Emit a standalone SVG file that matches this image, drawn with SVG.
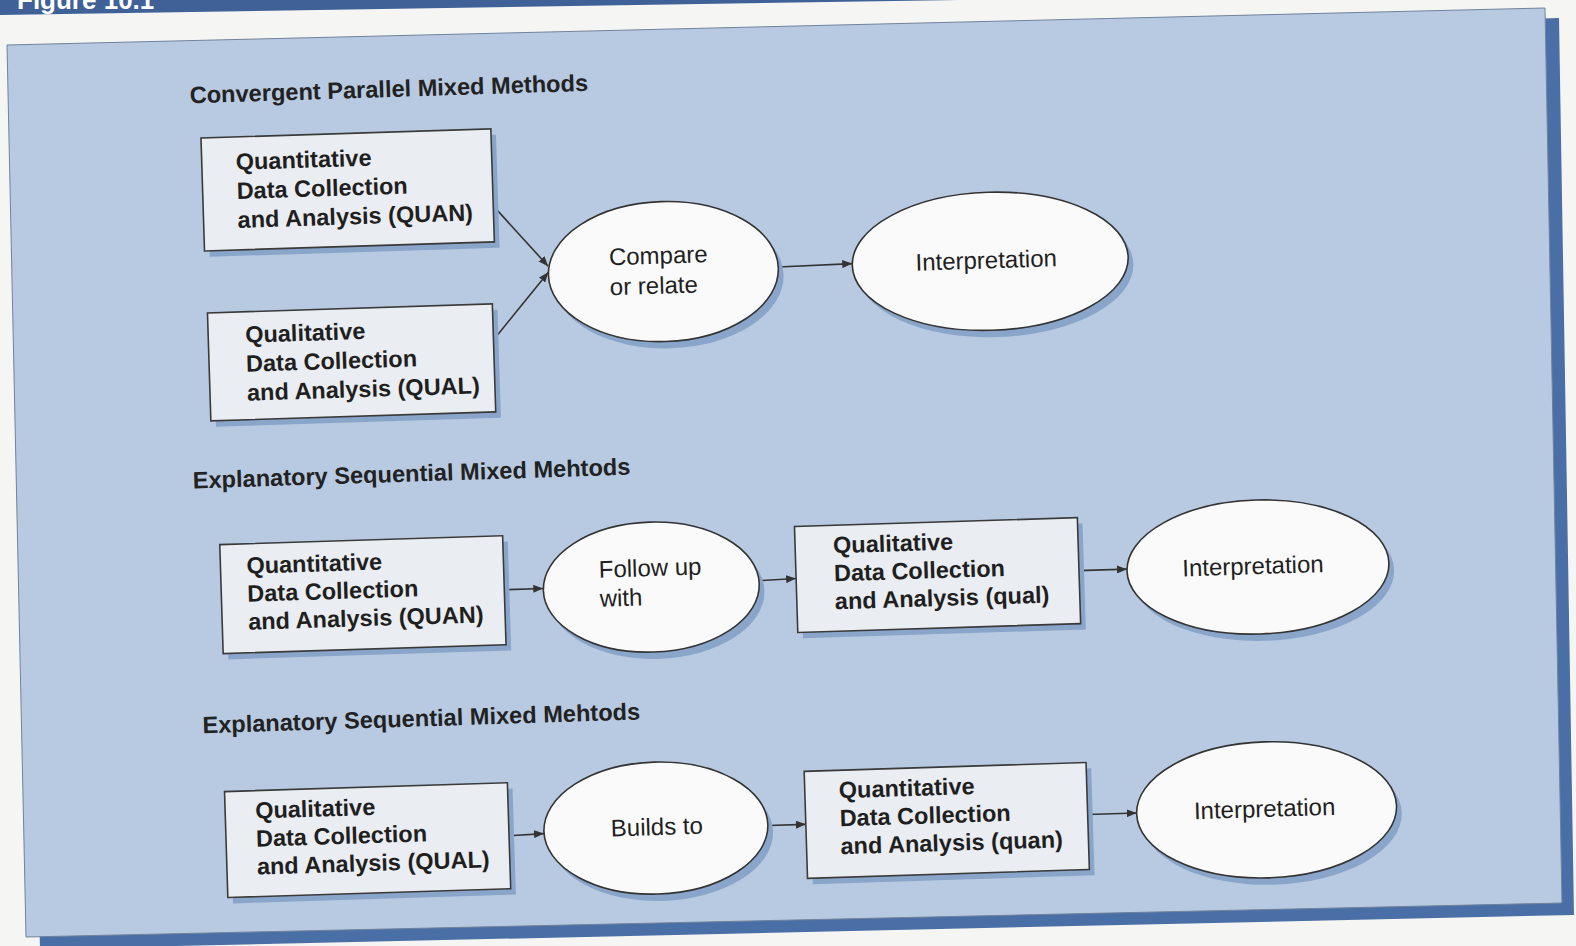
<svg xmlns="http://www.w3.org/2000/svg" width="1576" height="946" viewBox="0 0 1576 946">
<defs>
<marker id="arr" viewBox="0 0 10 8" refX="10" refY="4" markerWidth="10" markerHeight="8" markerUnits="userSpaceOnUse" orient="auto"><path d="M0,0 L10,4 L0,8 z" fill="#333"/></marker>
<style>
.box{fill:#eaedf1;stroke:#3a3a3a;stroke-width:1.6}
.ell{fill:#fafafa;stroke:#333;stroke-width:1.6}
.sh{fill:#8aa5ca}
.bt{font-family:"Liberation Sans",Arial,sans-serif;font-weight:bold;font-size:23.5px;fill:#1f1f1f}
.et{font-family:"Liberation Sans",Arial,sans-serif;font-size:24px;fill:#1f1f1f}
.ttl{font-family:"Liberation Sans",Arial,sans-serif;font-weight:bold;font-size:23.6px;fill:#222}
.conn path{stroke:#333;stroke-width:1.6;fill:none;marker-end:url(#arr)}
</style>
</defs>
<rect width="1576" height="946" fill="#f5f5f3"/>
<polygon points="0,0 960,0 0,15" fill="#3f6198"/>
<text x="17" y="9" font-family="Liberation Sans, Arial, sans-serif" font-weight="bold" font-size="26" fill="#ffffff">Figure 10.1</text>
<polygon points="21,57 1559,18 1574,915 40,949" fill="#4a6fa6"/>
<polygon points="7,45 1545,8 1562,903 26,937" fill="#b8cae1" stroke="#71829c" stroke-width="1"/>
<g transform="rotate(-1.8 780 480)">
<text class="ttl" x="202" y="85">Convergent Parallel Mixed Methods</text>
<text class="ttl" x="193" y="470">Explanatory Sequential Mixed Mehtods</text>
<text class="ttl" x="195" y="715">Explanatory Sequential Mixed Mehtods</text>

<g id="conns" class="conn">
<path d="M502,197 L555,259"/>
<path d="M498,331 L555,265"/>
<path d="M785,267 L859,266"/>
<path d="M501,581 L540,581"/>
<path d="M756,580 L793,579"/>
<path d="M1076,580 L1124,580"/>
<path d="M498,827 L533,826"/>
<path d="M757,825 L795,825"/>
<path d="M1077,824 L1126,824"/>
</g>

<g id="quan1">
<rect class="sh" x="217" y="126" width="290" height="113"/>
<rect class="box" x="212" y="120" width="290" height="113"/>
<text class="bt" x="246" y="153">Quantitative</text>
<text class="bt" x="246" y="182">Data Collection</text>
<text class="bt" x="246" y="211">and Analysis (QUAN)</text>
</g>
<g id="qual1">
<rect class="sh" x="218" y="301" width="285" height="108"/>
<rect class="box" x="213" y="295" width="285" height="108"/>
<text class="bt" x="250" y="326">Qualitative</text>
<text class="bt" x="250" y="355">Data Collection</text>
<text class="bt" x="250" y="384">and Analysis (QUAL)</text>
</g>
<g id="compare">
<ellipse class="sh" cx="675" cy="275" rx="115" ry="70"/>
<ellipse class="ell" cx="670" cy="268" rx="115" ry="70"/>
<text class="et" x="616" y="260">Compare</text>
<text class="et" x="616" y="290">or relate</text>
</g>
<g id="interp1">
<ellipse class="sh" cx="1002" cy="275" rx="138" ry="69"/>
<ellipse class="ell" cx="997" cy="268" rx="138" ry="69"/>
<text class="et" x="993" y="275" text-anchor="middle">Interpretation</text>
</g>

<g id="quan2">
<rect class="sh" x="223" y="533" width="283" height="109"/>
<rect class="box" x="218" y="527" width="283" height="109"/>
<text class="bt" x="244" y="557">Quantitative</text>
<text class="bt" x="244" y="585">Data Collection</text>
<text class="bt" x="244" y="613">and Analysis (QUAN)</text>
</g>
<g id="follow">
<ellipse class="sh" cx="653" cy="590" rx="108" ry="65"/>
<ellipse class="ell" cx="648" cy="583" rx="108" ry="65"/>
<text class="et" x="596" y="572">Follow up</text>
<text class="et" x="596" y="601">with</text>
</g>
<g id="qual2">
<rect class="sh" x="798" y="533" width="283" height="106"/>
<rect class="box" x="793" y="527" width="283" height="106"/>
<text class="bt" x="831" y="555">Qualitative</text>
<text class="bt" x="831" y="583">Data Collection</text>
<text class="bt" x="831" y="611">and Analysis (qual)</text>
</g>
<g id="interp2">
<ellipse class="sh" cx="1260" cy="589" rx="131" ry="67"/>
<ellipse class="ell" cx="1255" cy="582" rx="131" ry="67"/>
<text class="et" x="1250" y="589" text-anchor="middle">Interpretation</text>
</g>

<g id="qual3">
<rect class="sh" x="220" y="780" width="283" height="106"/>
<rect class="box" x="215" y="774" width="283" height="106"/>
<text class="bt" x="245" y="802">Qualitative</text>
<text class="bt" x="245" y="830">Data Collection</text>
<text class="bt" x="245" y="858">and Analysis (QUAL)</text>
</g>
<g id="builds">
<ellipse class="sh" cx="650" cy="831" rx="112" ry="66"/>
<ellipse class="ell" cx="645" cy="824" rx="112" ry="66"/>
<text class="et" x="646" y="831" text-anchor="middle">Builds to</text>
</g>
<g id="quan3">
<rect class="sh" x="800" y="778" width="282" height="107"/>
<rect class="box" x="795" y="772" width="282" height="107"/>
<text class="bt" x="829" y="800">Quantitative</text>
<text class="bt" x="829" y="828">Data Collection</text>
<text class="bt" x="829" y="856">and Analysis (quan)</text>
</g>
<g id="interp3">
<ellipse class="sh" cx="1261" cy="832" rx="130" ry="68"/>
<ellipse class="ell" cx="1256" cy="825" rx="130" ry="68"/>
<text class="et" x="1254" y="832" text-anchor="middle">Interpretation</text>
</g>
</g>
</svg>
